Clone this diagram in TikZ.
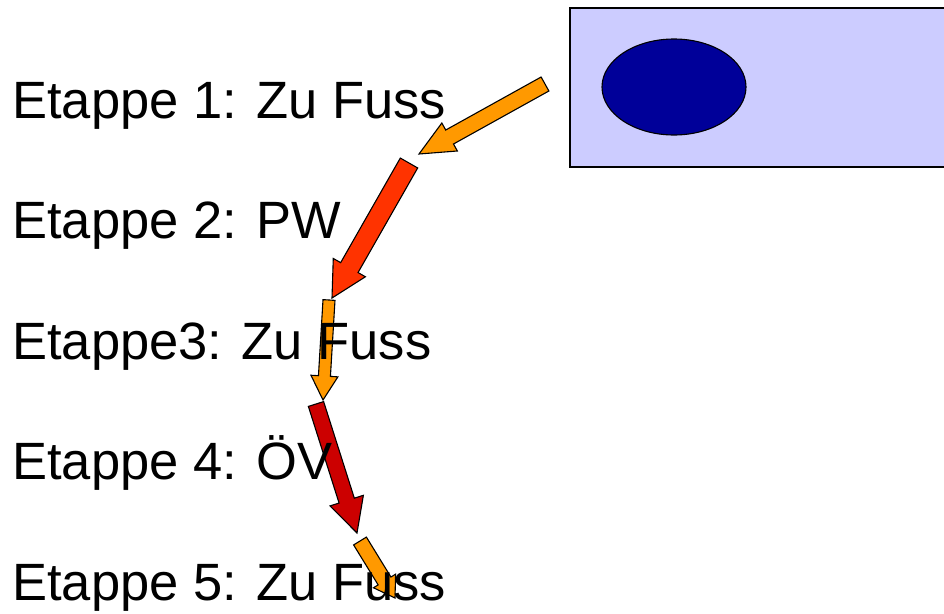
\documentclass[tikz,border=0pt]{standalone}
\usepackage{fontspec}
\setmainfont{Liberation Sans}
\usepackage{tikz}
\usetikzlibrary{calc}

\definecolor{hellblau}{HTML}{CCCCFF}
\definecolor{dunkelblau}{HTML}{000099}
\definecolor{orange}{HTML}{FF9900}
\definecolor{rotorange}{HTML}{FF3300}
\definecolor{dunkelrot}{HTML}{CC0000}

% block arrow: #1 fill, #2 tail, #3 tip, #4 half shaft, #5 half head, #6 head length
\newcommand{\blockpfeil}[6]{
  \coordinate (kopf) at ($(#3)!#6!(#2)$);
  \filldraw[pfeil, fill=#1]
    ($(#2)!#4!90:(#3)$) -- ($(kopf)!#4!90:(#3)$) -- ($(kopf)!#5!90:(#3)$)
    -- (#3)
    -- ($(kopf)!#5!-90:(#3)$) -- ($(kopf)!#4!-90:(#3)$) -- ($(#2)!#4!-90:(#3)$)
    -- cycle;
}

\begin{document}
\begin{tikzpicture}[x=1pt, y=-1pt,
    etappe/.style={anchor=base west, inner sep=0pt, font=\fontsize{52.5}{60}\selectfont},
    pfeil/.style={draw=black, line width=1.1pt, line join=miter}]
  \def\Xt{12};
  \def\Dy{120.5};
  \clip (0,0) rectangle (944,613);

        % Ziel oben rechts
        \draw[line width=1.5pt, fill=hellblau] (570,8) rectangle (960,167);
        \draw[line width=1.1pt, fill=dunkelblau] (674,87) ellipse (72 and 48);

        \coordinate (a1s) at (545,84);
        \coordinate (a1e) at (419,154);
        \coordinate (a2s) at (409,163);
        \coordinate (a2e) at (332,298);
        \coordinate (a3s) at (329,300);
        \coordinate (a3e) at (323,400);
        \coordinate (a4s) at (316,404);
        \coordinate (a4e) at (357,533);
        \coordinate (a5s) at (360,541);
        \coordinate (a5e) at (395,598);

        \blockpfeil{orange}{a1s}{a1e}{8pt}{16pt}{35pt}
        \blockpfeil{rotorange}{a2s}{a2e}{10pt}{18.5pt}{35pt}
        \blockpfeil{orange}{a3s}{a3e}{6pt}{13.5pt}{24pt}
        \blockpfeil{dunkelrot}{a4s}{a4e}{8pt}{17.5pt}{34pt}
        \blockpfeil{orange}{a5s}{a5e}{7.5pt}{13pt}{20pt}

        \node[etappe] (e1) at (\Xt, 118) {Etappe 1: Zu Fuss};
        \node[etappe] (e2) at (\Xt, 118 + \Dy) {Etappe 2: PW};
        \node[etappe] (e3) at (\Xt, 118 + 2*\Dy) {Etappe3: Zu Fuss};
        \node[etappe] (e4) at (\Xt, 118 + 3*\Dy) {Etappe 4: ÖV};
        \node[etappe] (e5) at (\Xt, 118 + 4*\Dy) {Etappe 5: Zu Fuss};

\end{tikzpicture}
\end{document}
